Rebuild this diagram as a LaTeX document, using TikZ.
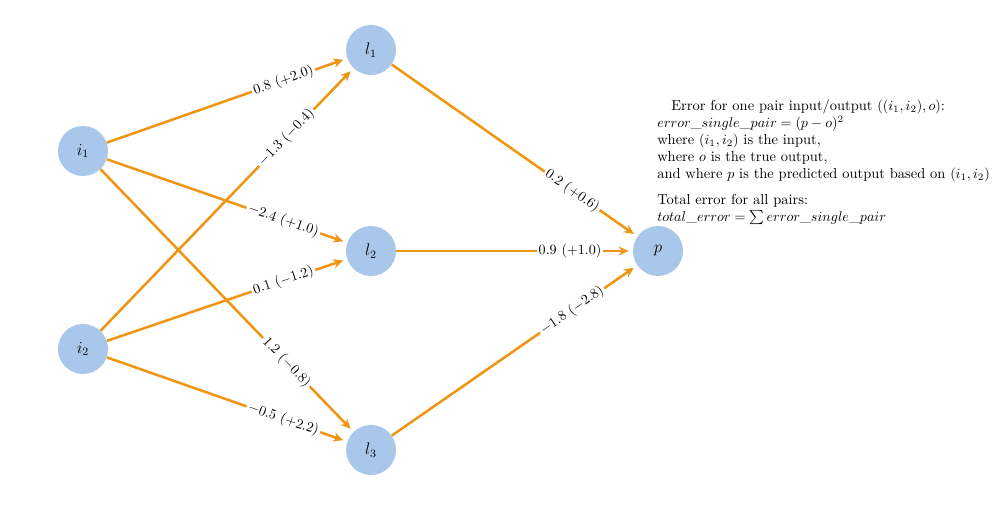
\documentclass[tikz,border=0pt]{standalone}
\usetikzlibrary{arrows.meta}
\definecolor{nodeblue}{RGB}{169,199,234}
\definecolor{edgeorange}{RGB}{238,150,20}
\begin{document}
\begin{tikzpicture}[x=0.025cm,y=-0.025cm,
  every node/.style={font=\fontsize{10.3}{12.2}\selectfont},
  neuron/.style={circle,fill=nodeblue,minimum size=1.25cm,inner sep=0pt,font=\fontsize{12}{14}\selectfont},
  conn/.style={draw=edgeorange,line width=1.8pt,-{Stealth[length=7pt,width=6.5pt]},shorten >=3pt},
  wlabel/.style={fill=white,sloped,inner sep=1.5pt,pos=0.735,text=black}]
\useasboundingbox (0,0) rectangle (1000,513);
\node[neuron] (i1) at (83,151) {$i_1$};
\node[neuron] (i2) at (83,349) {$i_2$};
\node[neuron] (l1) at (371,50) {$l_1$};
\node[neuron] (l2) at (371,251) {$l_2$};
\node[neuron] (l3) at (371,450) {$l_3$};
\node[neuron] (p) at (658,251) {$p$};
\draw[conn] (i1) -- node[wlabel] {$0.8$ $(+2.0)$} (l1);
\draw[conn] (i2) -- node[wlabel] {$-1.3$ $(-0.4)$} (l1);
\draw[conn] (i1) -- node[wlabel] {$-2.4$ $(+1.0)$} (l2);
\draw[conn] (i2) -- node[wlabel] {$0.1$ $(-1.2)$} (l2);
\draw[conn] (i1) -- node[wlabel] {$1.2$ $(-0.8)$} (l3);
\draw[conn] (i2) -- node[wlabel] {$-0.5$ $(+2.2)$} (l3);
\draw[conn] (l1) -- node[wlabel] {$0.2$ $(+0.6)$} (p);
\draw[conn] (l2) -- node[wlabel] {$0.9$ $(+1.0)$} (p);
\draw[conn] (l3) -- node[wlabel] {$-1.8$ $(-2.8)$} (p);
\node[anchor=north west,inner sep=0pt,align=left] (txt) at (657,99) {%
\hspace*{10pt}Error for one pair input/output $((i_1,i_2),o)$:\\
$error\_single\_pair=(p-o)^2$\\
where $(i_1,i_2)$ is the input,\\
where $o$ is the true output,\\
and where $p$ is the predicted output based on $(i_1,i_2)$\\[6pt]
Total error for all pairs:\\
$total\_error=\sum error\_single\_pair$};
\end{tikzpicture}
\end{document}
